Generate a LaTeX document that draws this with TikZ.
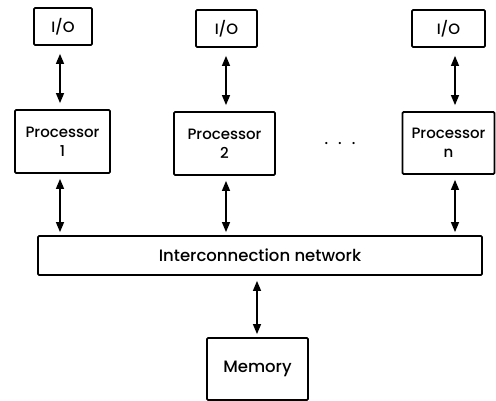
\documentclass[tikz,border=0pt]{standalone}
\usepackage{fontspec}
\setmainfont{DejaVu Sans}
\newfontfamily\labelfont{Poppins Medium}
\usetikzlibrary{arrows.meta}
\begin{document}
\begin{tikzpicture}[x=1pt,y=-1pt,
  unitbox/.style={draw=black, line width=1.8pt, rounded corners=1.2pt, inner sep=0pt,
    align=center, font=\labelfont\fontsize{15}{19}\selectfont},
  bigtext/.style={font=\labelfont\fontsize{16.5}{20}\selectfont},
  biarrow/.style={line width=1.3pt, {Triangle[length=10pt,width=8pt]}-{Triangle[length=10pt,width=8pt]}}
]
\useasboundingbox (0,0) rectangle (496,401);

% I/O units
\node[unitbox, minimum width=58pt, minimum height=37pt] (io1) at (63,26.5) {I/O};
\node[unitbox, minimum width=61pt, minimum height=37pt] (io2) at (226.5,28.5) {I/O};
\node[unitbox, minimum width=73pt, minimum height=37pt] (io3) at (448.5,28.5) {I/O};

% processors
\node[unitbox, minimum width=95pt, minimum height=63pt] (p1) at (62.5,141.5) {Processor\\1};
\node[unitbox, minimum width=101pt, minimum height=63pt] (p2) at (224.5,143.5) {Processor\\2};
\node[unitbox, minimum width=92pt, minimum height=62pt] (pn) at (448.5,143) {Processor\\n};
\node[font=\labelfont\fontsize{15}{19}\selectfont] (dots) at (340,144) {.\hspace{10pt}.\hspace{10pt}.};

% shared interconnect and memory
\node[unitbox, bigtext, minimum width=444pt, minimum height=39pt] (net) at (260,255.5) {Interconnection network};
\node[unitbox, bigtext, minimum width=101pt, minimum height=62pt] (mem) at (257.5,369) {Memory};

% vertical lines for the links
\coordinate (c1) at (60,0);
\coordinate (c2) at (226,0);
\coordinate (c3) at (455,0);
\coordinate (cm) at (257,0);

\draw[biarrow, shorten <=8pt, shorten >=6pt] (io1.south -| c1) -- (p1.north -| c1);
\draw[biarrow, shorten <=8pt, shorten >=6pt] (io2.south -| c2) -- (p2.north -| c2);
\draw[biarrow, shorten <=8pt, shorten >=6pt] (io3.south -| c3) -- (pn.north -| c3);

\draw[biarrow, shorten <=5pt, shorten >=3pt] (p1.south -| c1) -- (net.north -| c1);
\draw[biarrow, shorten <=5pt, shorten >=3pt] (p2.south -| c2) -- (net.north -| c2);
\draw[biarrow, shorten <=5pt, shorten >=3pt] (pn.south -| c3) -- (net.north -| c3);

\draw[biarrow, shorten <=5pt, shorten >=3pt] (net.south -| cm) -- (mem.north -| cm);
\end{tikzpicture}
\end{document}
